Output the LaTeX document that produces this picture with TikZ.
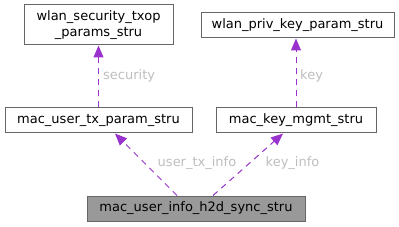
\documentclass[tikz,border=0pt]{standalone}
\usepackage{fontspec}
\setmainfont{DejaVu Sans}
\usetikzlibrary{arrows.meta}
\definecolor{dxborder}{HTML}{666666}
\definecolor{dxfill}{HTML}{999999}
\definecolor{dxedge}{HTML}{9A32CD}
\definecolor{dxlabel}{HTML}{BEBEBE}
\tikzset{
  structbox/.style={draw=dxborder,fill=white,line width=1pt,rectangle,
    minimum height=25pt,inner sep=0pt,align=center,font=\fontsize{13}{15.5}\selectfont},
  usageedge/.style={draw=dxedge,line width=1pt,dash pattern=on 6pt off 5pt,
    -{Triangle[length=12pt,width=10pt]}},
  edgelabel/.style={text=dxlabel,font=\fontsize{13}{15.5}\selectfont,inner sep=0pt},
}
\begin{document}
\begin{tikzpicture}[x=1pt,y=-1pt]
        \path[use as bounding box] (0,0) rectangle (399,227);
        \node[structbox,minimum width=149pt,minimum height=40pt] (sectxop) at (98.5,25) {wlan\_security\_txop\\\_params\_stru};
        \node[structbox,minimum width=193pt] (privkey) at (297.5,25.5) {wlan\_priv\_key\_param\_stru};
        \node[structbox,minimum width=187pt] (txparam) at (98.5,120.5) {mac\_user\_tx\_param\_stru};
        \node[structbox,minimum width=160pt] (keymgmt) at (296,120.5) {mac\_key\_mgmt\_stru};
        \node[structbox,fill=dxfill,minimum width=218pt] (syncinfo) at (196,208.5) {mac\_user\_info\_h2d\_sync\_stru};
        \draw[usageedge] (txparam.north) -- (sectxop.south);
        \draw[usageedge] (keymgmt.north) -- (privkey.south -| keymgmt.north);
        \draw[usageedge] ([xshift=-19pt]syncinfo.north) -- ([xshift=16.5pt]txparam.south);
        \draw[usageedge] ([xshift=17pt]syncinfo.north) -- ([xshift=-13pt]keymgmt.south);
        \node[edgelabel,anchor=west] (lblsec) at (103,76) {security};
        \node[edgelabel,anchor=west] (lblkey) at (300,76) {key};
        \node[edgelabel] (lbltx) at (197,163) {user\_tx\_info};
        \node[edgelabel] (lblkeyinfo) at (292.5,163) {key\_info};
      \end{tikzpicture}
\end{document}
